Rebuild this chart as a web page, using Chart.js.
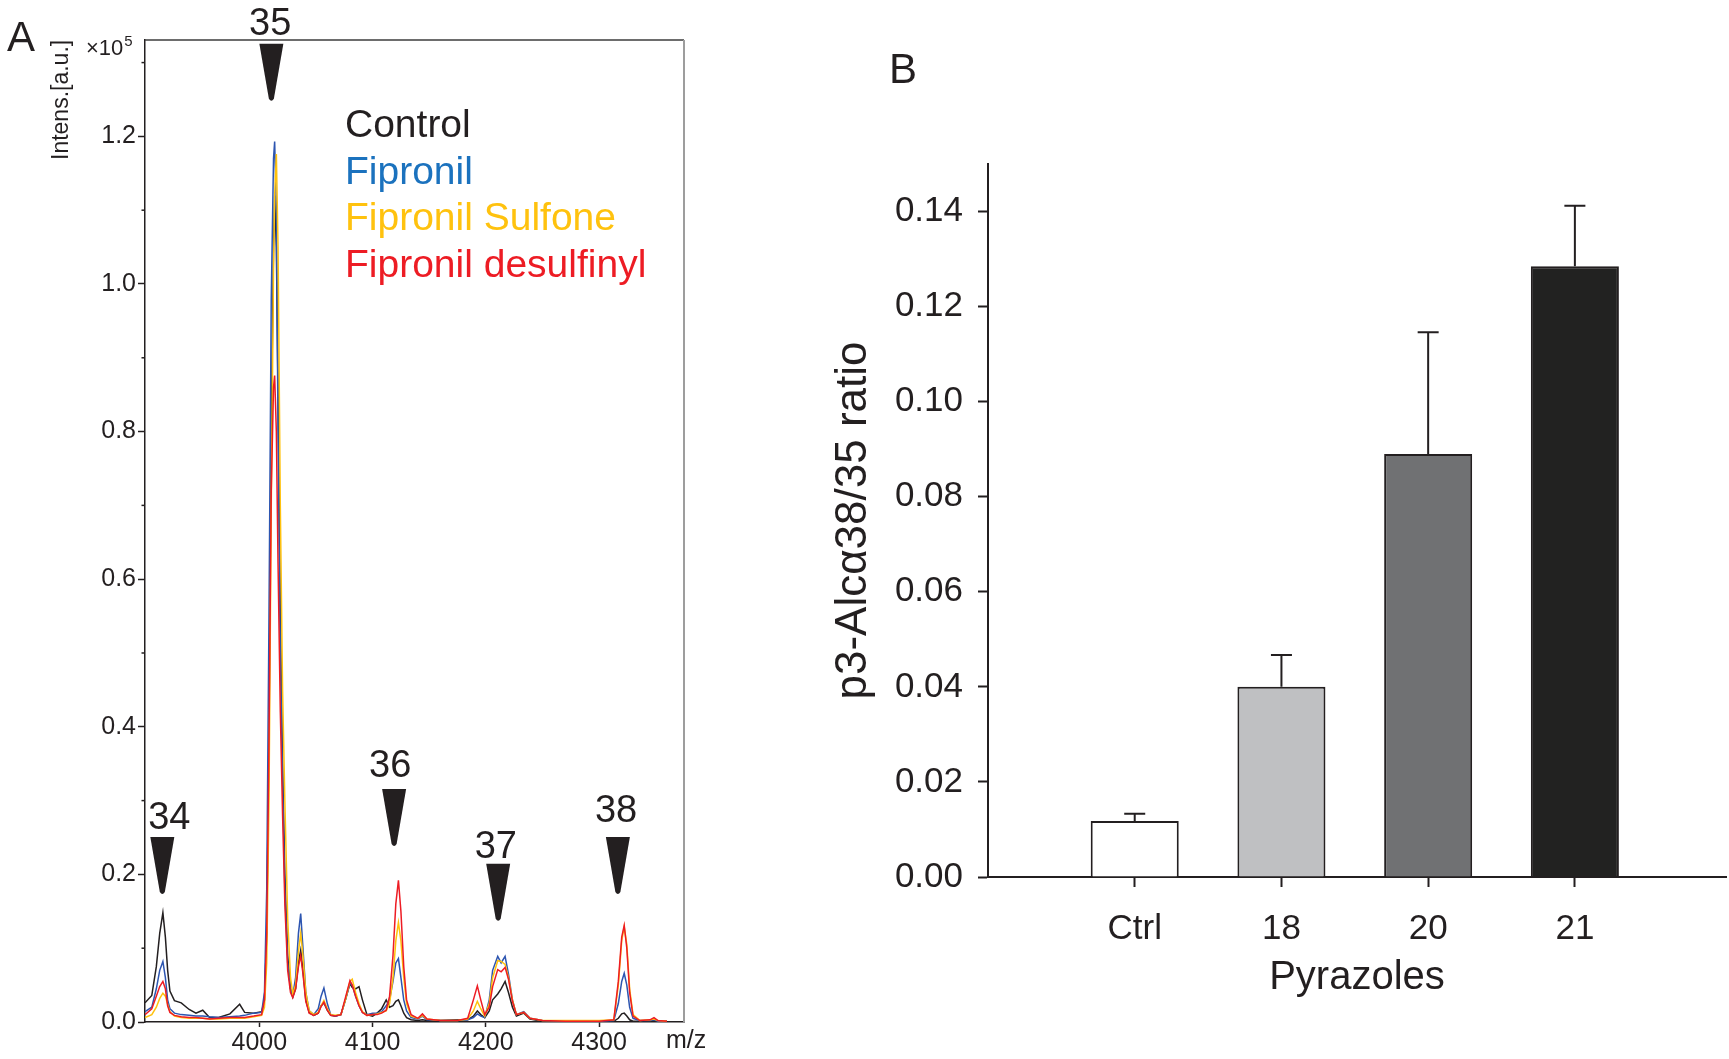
<!DOCTYPE html>
<html>
<head>
<meta charset="utf-8">
<title>p3-Alc spectra and ratio</title>
<script src="https://cdn.jsdelivr.net/npm/chart.js@4.4.1/dist/chart.umd.min.js"></script>
<style>
    html, body { margin: 0; padding: 0; background: #fff; }
    body { width: 1729px; height: 1059px; position: relative; overflow: hidden; }
    #wrapA { position: absolute; left: 0; top: 0; width: 760px; height: 1059px; }
    #wrapB { position: absolute; left: 760px; top: 0; width: 969px; height: 1059px; }
</style>
</head>
<body>
<div id="wrapA"><canvas id="specA"></canvas></div>
<div id="wrapB"><canvas id="ratioB"></canvas></div>
<script>
// ---- panel A : MALDI spectra (intensity x10^5 vs m/z) ----
var mz = [3899, 3905, 3909, 3912, 3914.8, 3917, 3919, 3921, 3925, 3931,
    3938, 3944, 3950, 3956, 3964, 3974, 3982.6, 3987, 3995, 4002,
    4004.5, 4006.5, 4008.5, 4010.5, 4012.5, 4013.5, 4015, 4016.5, 4018.5, 4020.5,
    4022.5, 4025, 4027.5, 4029.5, 4032, 4034.5, 4036.5, 4038.5, 4041, 4044,
    4048, 4052, 4054.5, 4057, 4060, 4063, 4067, 4072, 4076, 4080,
    4082, 4085, 4088, 4091, 4095, 4100, 4104, 4108, 4112, 4115,
    4118, 4120.5, 4122.8, 4125, 4127.5, 4130, 4134, 4140, 4144, 4148,
    4160, 4175, 4184, 4189, 4192.5, 4195.5, 4199, 4203, 4206, 4210.5,
    4213.5, 4217, 4220, 4223.5, 4227, 4233.5, 4239, 4250, 4270, 4300,
    4313, 4317, 4320, 4322.2, 4324.5, 4327, 4330, 4336, 4345, 4348.5,
    4352, 4360];
var control = [0.026, 0.036, 0.075, 0.120, 0.148, 0.115, 0.070, 0.042, 0.029, 0.026,
    0.017, 0.012, 0.016, 0.006, 0.006, 0.011, 0.024, 0.013, 0.012, 0.014,
    0.03, 0.12, 0.40, 0.80, 1.05, 1.12, 1.05, 0.85, 0.55, 0.35,
    0.20, 0.09, 0.045, 0.034, 0.045, 0.08, 0.097, 0.07, 0.03, 0.013,
    0.009, 0.012, 0.022, 0.026, 0.016, 0.009, 0.008, 0.010, 0.030, 0.052,
    0.047, 0.045, 0.048, 0.030, 0.010, 0.008, 0.012, 0.018, 0.030, 0.020,
    0.022, 0.028, 0.030, 0.022, 0.012, 0.006, 0.003, 0.002, 0.003, 0.002,
    0.002, 0.003, 0.003, 0.008, 0.015, 0.010, 0.006, 0.015, 0.030, 0.038,
    0.045, 0.055, 0.040, 0.020, 0.008, 0.012, 0.004, 0.001, 0.001, 0.001,
    0.001, 0.005, 0.011, 0.012, 0.008, 0.003, 0.001, 0.001, 0.001, 0.002,
    0.001, 0.001];
var fipronil = [0.014, 0.020, 0.045, 0.070, 0.082, 0.060, 0.030, 0.018, 0.012, 0.010,
    0.009, 0.008, 0.008, 0.007, 0.006, 0.007, 0.008, 0.009, 0.012, 0.013,
    0.04, 0.18, 0.55, 0.98, 1.17, 1.193, 1.10, 0.80, 0.50, 0.33,
    0.18, 0.08, 0.045, 0.036, 0.06, 0.12, 0.147, 0.10, 0.04, 0.015,
    0.010, 0.018, 0.035, 0.046, 0.025, 0.010, 0.008, 0.010, 0.030, 0.053,
    0.050, 0.035, 0.022, 0.013, 0.010, 0.012, 0.012, 0.014, 0.022, 0.030,
    0.055, 0.080, 0.086, 0.060, 0.030, 0.015, 0.006, 0.004, 0.008, 0.003,
    0.002, 0.002, 0.003, 0.006, 0.011, 0.008, 0.006, 0.030, 0.070, 0.089,
    0.080, 0.089, 0.065, 0.030, 0.010, 0.014, 0.005, 0.002, 0.001, 0.001,
    0.002, 0.025, 0.055, 0.066, 0.050, 0.020, 0.005, 0.002, 0.002, 0.003,
    0.001, 0.001];
var sulfone = [0.006, 0.010, 0.020, 0.032, 0.039, 0.035, 0.024, 0.014, 0.008, 0.006,
    0.005, 0.005, 0.005, 0.004, 0.004, 0.005, 0.005, 0.005, 0.007, 0.009,
    0.02, 0.08, 0.30, 0.70, 1.02, 1.12, 1.176, 1.05, 0.70, 0.45,
    0.30, 0.14, 0.06, 0.038, 0.05, 0.095, 0.120, 0.09, 0.04, 0.015,
    0.010, 0.013, 0.022, 0.029, 0.018, 0.010, 0.009, 0.010, 0.030, 0.055,
    0.058, 0.040, 0.025, 0.014, 0.009, 0.010, 0.011, 0.013, 0.015, 0.025,
    0.060, 0.110, 0.135, 0.110, 0.060, 0.025, 0.008, 0.005, 0.009, 0.004,
    0.002, 0.002, 0.004, 0.015, 0.028, 0.018, 0.008, 0.025, 0.060, 0.083,
    0.082, 0.078, 0.060, 0.030, 0.010, 0.013, 0.005, 0.002, 0.002, 0.002,
    0.003, 0.050, 0.110, 0.129, 0.105, 0.045, 0.010, 0.002, 0.003, 0.004,
    0.002, 0.001];
var desulfinyl = [0.010, 0.018, 0.035, 0.048, 0.055, 0.045, 0.022, 0.013, 0.009, 0.007,
    0.006, 0.006, 0.005, 0.004, 0.005, 0.006, 0.006, 0.006, 0.008, 0.010,
    0.03, 0.12, 0.38, 0.72, 0.86, 0.876, 0.80, 0.62, 0.42, 0.28,
    0.16, 0.07, 0.04, 0.033, 0.045, 0.075, 0.090, 0.065, 0.028, 0.012,
    0.009, 0.012, 0.021, 0.027, 0.016, 0.009, 0.008, 0.010, 0.033, 0.056,
    0.050, 0.035, 0.022, 0.013, 0.009, 0.010, 0.010, 0.012, 0.016, 0.035,
    0.090, 0.160, 0.192, 0.150, 0.075, 0.030, 0.010, 0.005, 0.011, 0.004,
    0.002, 0.002, 0.005, 0.030, 0.049, 0.030, 0.010, 0.020, 0.048, 0.071,
    0.068, 0.074, 0.058, 0.028, 0.010, 0.013, 0.005, 0.002, 0.001, 0.001,
    0.003, 0.055, 0.115, 0.131, 0.100, 0.040, 0.008, 0.002, 0.003, 0.006,
    0.002, 0.001];
var seriesNames = ['Control', 'Fipronil', 'Fipronil Sulfone', 'Fipronil desulfinyl'];
var xTicksA = [4000, 4100, 4200, 4300];
var yTicksA = [0, 0.2, 0.4, 0.6, 0.8, 1.0, 1.2];
var yMinorA = [0.1, 0.3, 0.5, 0.7, 0.9, 1.1, 1.3];
// peak markers (arrowheads) and their labels
var peakNames = ['34', '35', '36', '37', '38'];
var peakMz = [3914.3, 4010.6, 4119, 4210.9, 4316.6];
var peakTip = [0.172, 1.247, 0.237, 0.136, 0.172];
var labelMz = [3920.5, 4009.5, 4115.5, 4208.8, 4315];
var labelBase = [0.261, 1.337, 0.332, 0.222, 0.271];

// ---- panel B : p3-Alc alpha 38/35 ratio ----
var pyrazoles = ['Ctrl', '18', '20', '21'];
var ratio = [0.0118, 0.040, 0.089, 0.1285];
var ratioErr = [0.0015, 0.0067, 0.0256, 0.0127];
var yTicksB = [0, 0.02, 0.04, 0.06, 0.08, 0.10, 0.12, 0.14];

var fontFam = "'Liberation Sans', Arial, Helvetica, sans-serif";
var ink = '#231f20';
var lineColors = ['#231f20', '#2d55b0', '#ffc20e', '#ed1c24'];
var textColors = ['#231f20', '#1b72be', '#ffc20e', '#ed1c24'];
var barColors = ['#ffffff', '#bfc0c2', '#707173', '#222221'];

function toPoints(xs, ys) {
    return xs.map(function (x, i) { return { x: x, y: ys[i] }; });
}

var panelAExtras = {
    id: 'panelAExtras',
    afterDraw: function (chart) {
        var ctx = chart.ctx, a = chart.chartArea;
        var xs = chart.scales.x, ys = chart.scales.y;
        ctx.save();
        // top and right frame
        ctx.strokeStyle = '#3c3c3c';
        ctx.lineWidth = 1.5;
        ctx.beginPath(); ctx.moveTo(a.left, a.top); ctx.lineTo(a.right, a.top); ctx.stroke();
        ctx.strokeStyle = '#9d9d9d';
        ctx.lineWidth = 2;
        ctx.beginPath(); ctx.moveTo(a.right, a.top); ctx.lineTo(a.right, a.bottom); ctx.stroke();
        // minor ticks
        ctx.strokeStyle = ink;
        ctx.lineWidth = 1.5;
        yMinorA.forEach(function (v) {
            var y = ys.getPixelForValue(v);
            ctx.beginPath(); ctx.moveTo(a.left - 3.5, y); ctx.lineTo(a.left, y); ctx.stroke();
        });
        // arrowheads + peak numbers
        ctx.fillStyle = ink;
        for (var i = 0; i < peakNames.length; i++) {
            var px = xs.getPixelForValue(peakMz[i]);
            var tip = ys.getPixelForValue(peakTip[i]);
            var top = tip - 58;
            ctx.beginPath();
            ctx.moveTo(px - 12, top);
            ctx.lineTo(px + 12, top);
            ctx.lineTo(px + 2.5, tip - 3);
            ctx.quadraticCurveTo(px, tip + 1, px - 2.5, tip - 3);
            ctx.closePath();
            ctx.fill();
            ctx.font = '38px ' + fontFam;
            ctx.textAlign = 'center';
            ctx.textBaseline = 'alphabetic';
            ctx.fillText(peakNames[i], xs.getPixelForValue(labelMz[i]), ys.getPixelForValue(labelBase[i]));
        }
        // legend as coloured text
        ctx.font = '39px ' + fontFam;
        ctx.textAlign = 'left';
        seriesNames.forEach(function (name, k) {
            ctx.fillStyle = textColors[k];
            ctx.fillText(name, 345, 137 + 46.7 * k);
        });
        // panel letter, units, axis names
        ctx.fillStyle = ink;
        ctx.font = '42px ' + fontFam;
        ctx.fillText('A', 7, 51);
        ctx.font = '22px ' + fontFam;
        ctx.fillText('\u00d710', 86, 55);
        var w = ctx.measureText('\u00d710').width;
        ctx.font = '15px ' + fontFam;
        ctx.fillText('5', 86 + w + 1, 46);
        ctx.font = '25px ' + fontFam;
        ctx.fillText('m/z', 666, 1048);
        ctx.save();
        ctx.translate(68, 160);
        ctx.rotate(-Math.PI / 2);
        ctx.font = '23px ' + fontFam;
        ctx.fillText('Intens.[a.u.]', 0, 0);
        ctx.restore();
        ctx.restore();
    }
};

var panelBExtras = {
    id: 'panelBExtras',
    afterDraw: function (chart) {
        var ctx = chart.ctx;
        var xs = chart.scales.x, ys = chart.scales.y;
        ctx.save();
        // error bars (upper only)
        ctx.strokeStyle = ink;
        ctx.lineWidth = 2;
        for (var i = 0; i < ratio.length; i++) {
            var x = xs.getPixelForValue(i + 1);
            var y0 = ys.getPixelForValue(ratio[i]);
            var y1 = ys.getPixelForValue(ratio[i] + ratioErr[i]);
            ctx.beginPath();
            ctx.moveTo(x, y0); ctx.lineTo(x, y1);
            ctx.moveTo(x - 10.5, y1); ctx.lineTo(x + 10.5, y1);
            ctx.stroke();
        }
        ctx.fillStyle = ink;
        ctx.textAlign = 'left';
        ctx.textBaseline = 'alphabetic';
        ctx.font = '42px ' + fontFam;
        ctx.fillText('B', 129, 83);
        ctx.font = '40px ' + fontFam;
        ctx.textAlign = 'center';
        ctx.fillText('Pyrazoles', (chart.chartArea.left + chart.chartArea.right) / 2, 989);
        ctx.save();
        ctx.translate(106, (chart.chartArea.top + chart.chartArea.bottom) / 2);
        ctx.rotate(-Math.PI / 2);
        ctx.font = '44px ' + fontFam;
        ctx.fillText('p3-Alc\u03b138/35 ratio', 0, 0);
        ctx.restore();
        ctx.restore();
    }
};

var specChart = new Chart(document.getElementById('specA'), {
    type: 'line',
    data: {
        datasets: [
            { label: seriesNames[0], data: toPoints(mz, control), borderColor: lineColors[0], order: 3 },
            { label: seriesNames[1], data: toPoints(mz, fipronil), borderColor: lineColors[1], order: 2 },
            { label: seriesNames[2], data: toPoints(mz, sulfone), borderColor: lineColors[2], order: 1 },
            { label: seriesNames[3], data: toPoints(mz, desulfinyl), borderColor: lineColors[3], order: 0 }
        ]
    },
    options: {
        responsive: true,
        maintainAspectRatio: false,
        animation: false,
        devicePixelRatio: 1,
        layout: { padding: { top: 40, right: 76, bottom: 0, left: 0 } },
        elements: {
            line: { borderWidth: 1.5, tension: 0, fill: false },
            point: { radius: 0, hoverRadius: 0 }
        },
        plugins: { legend: { display: false }, tooltip: { enabled: false } },
        scales: {
            x: {
                type: 'linear',
                min: 3899,
                max: 4375,
                afterFit: function (scale) { scale.height = 37; },
                afterBuildTicks: function (scale) {
                    scale.ticks = xTicksA.map(function (v) { return { value: v }; });
                },
                ticks: {
                    color: ink,
                    padding: 1,
                    maxRotation: 0,
                    font: { family: fontFam, size: 25 },
                    callback: function (v) { return String(v); }
                },
                grid: { display: true, drawOnChartArea: false, tickLength: 5, tickColor: ink, tickWidth: 1.5 },
                border: { display: true, color: ink, width: 1.5 }
            },
            y: {
                type: 'linear',
                min: 0,
                max: 1.3306,
                afterFit: function (scale) { scale.width = 145; },
                afterBuildTicks: function (scale) {
                    scale.ticks = yTicksA.map(function (v) { return { value: v }; });
                },
                ticks: {
                    color: ink,
                    padding: 2,
                    font: { family: fontFam, size: 25 },
                    callback: function (v) { return v.toFixed(1); }
                },
                grid: { display: true, drawOnChartArea: false, tickLength: 7, tickColor: ink, tickWidth: 1.5 },
                border: { display: true, color: ink, width: 1.5 }
            }
        }
    },
    plugins: [panelAExtras]
});

var ratioChart = new Chart(document.getElementById('ratioB'), {
    type: 'bar',
    data: {
        datasets: [{
            label: 'p3-Alc\u03b138/35 ratio',
            data: pyrazoles.map(function (p, i) { return { x: i + 1, y: ratio[i] }; }),
            backgroundColor: barColors,
            borderColor: ink,
            borderWidth: 2,
            borderSkipped: 'start',
            barPercentage: 0.6,
            categoryPercentage: 1.0
        }]
    },
    options: {
        responsive: true,
        maintainAspectRatio: false,
        animation: false,
        devicePixelRatio: 1,
        layout: { padding: { top: 164, right: 3, bottom: 0, left: 0 } },
        plugins: { legend: { display: false }, tooltip: { enabled: false } },
        scales: {
            x: {
                type: 'linear',
                min: 0,
                max: 5.03,
                offset: false,
                afterFit: function (scale) { scale.height = 182; },
                afterBuildTicks: function (scale) {
                    scale.ticks = pyrazoles.map(function (p, i) { return { value: i + 1 }; });
                },
                ticks: {
                    color: ink,
                    padding: 21,
                    maxRotation: 0,
                    font: { family: fontFam, size: 35 },
                    callback: function (v) { return pyrazoles[v - 1]; }
                },
                grid: { display: true, offset: false, drawOnChartArea: false, tickLength: 10, tickColor: ink, tickWidth: 2 },
                border: { display: true, color: ink, width: 2 }
            },
            y: {
                type: 'linear',
                min: 0,
                max: 0.15,
                afterFit: function (scale) { scale.width = 228; },
                afterBuildTicks: function (scale) {
                    scale.ticks = yTicksB.map(function (v) { return { value: v }; });
                },
                ticks: {
                    color: ink,
                    padding: 15,
                    font: { family: fontFam, size: 35 },
                    callback: function (v) { return v.toFixed(2); }
                },
                grid: { display: true, drawOnChartArea: false, tickLength: 10, tickColor: ink, tickWidth: 2 },
                border: { display: true, color: ink, width: 2 }
            }
        }
    },
    plugins: [panelBExtras]
});
</script>
</body>
</html>
